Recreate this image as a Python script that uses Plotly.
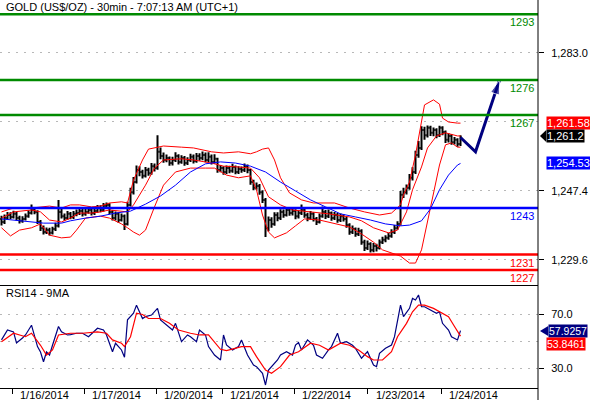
import plotly.graph_objects as go
from plotly.subplots import make_subplots

# ---- 30min gold bars (one bar per hour) ----
open_ = [1240.2, 1239.4, 1240.4, 1241.2, 1240.7, 1241.5, 1240.4, 1239.7, 1240.2, 1240.9,
         1241.7, 1242.5, 1242.0, 1239.4, 1237.8, 1236.8, 1237.3, 1236.6, 1237.6, 1238.4,
         1242.0, 1240.9, 1240.4, 1241.5, 1240.7, 1241.5, 1241.7, 1242.2, 1241.5, 1242.0,
         1242.5, 1241.7, 1242.2, 1243.0, 1242.5, 1243.5, 1243.8, 1242.0, 1240.4, 1241.5,
         1239.9, 1240.9, 1238.9, 1243.8, 1247.1, 1249.7, 1252.8, 1252.3, 1251.3, 1252.8,
         1252.0, 1253.8, 1253.3, 1257.5, 1256.4, 1255.4, 1255.9, 1254.6, 1255.4, 1256.4,
         1254.9, 1255.9, 1254.6, 1255.4, 1256.2, 1255.1, 1256.4, 1255.9, 1256.7, 1255.4,
         1256.2, 1254.9, 1255.7, 1252.8, 1253.3, 1252.3, 1253.3, 1252.6, 1253.6, 1252.3,
         1253.1, 1252.8, 1253.8, 1252.8, 1249.7, 1248.2, 1248.7, 1247.1, 1245.1, 1237.8,
         1239.9, 1238.9, 1241.2, 1240.4, 1242.0, 1241.2, 1242.5, 1241.7, 1242.2, 1240.9,
         1241.7, 1242.5, 1241.2, 1240.4, 1241.5, 1240.2, 1239.4, 1240.9, 1242.0, 1240.9,
         1241.7, 1240.4, 1241.2, 1239.9, 1240.9, 1240.2, 1238.6, 1236.8, 1237.6, 1236.3,
         1237.1, 1234.2, 1232.7, 1233.7, 1232.2, 1233.2, 1232.7, 1234.2, 1234.8, 1235.3,
         1235.8, 1236.8, 1237.8, 1238.9, 1246.4, 1247.1, 1248.2, 1250.8, 1252.3, 1256.7,
         1258.5, 1263.1, 1261.8, 1263.7, 1262.4, 1263.1, 1261.8, 1263.7, 1262.6, 1260.6,
         1261.6, 1260.0, 1260.6, 1259.5]
high = [1241.0, 1241.3, 1242.0, 1241.9, 1242.3, 1242.0, 1241.0, 1240.9, 1241.6, 1242.4,
        1243.9, 1243.2, 1242.4, 1239.9, 1238.5, 1238.0, 1237.9, 1238.2, 1239.2, 1245.1,
        1242.8, 1241.6, 1242.2, 1242.0, 1242.2, 1242.6, 1243.0, 1242.9, 1242.8, 1243.3,
        1243.0, 1243.1, 1243.8, 1243.7, 1244.3, 1244.4, 1244.2, 1242.5, 1242.1, 1241.9,
        1241.6, 1241.3, 1244.6, 1248.2, 1251.0, 1254.0, 1253.8, 1252.9, 1253.6, 1253.4,
        1254.6, 1254.5, 1261.8, 1258.6, 1257.3, 1256.8, 1256.3, 1256.2, 1257.4, 1256.9,
        1256.6, 1256.4, 1256.1, 1257.0, 1256.8, 1257.2, 1257.1, 1257.6, 1257.3, 1257.4,
        1256.8, 1256.9, 1256.0, 1254.1, 1253.8, 1254.0, 1253.9, 1254.4, 1254.0, 1253.8,
        1253.7, 1254.5, 1254.2, 1253.1, 1250.3, 1249.6, 1249.2, 1247.6, 1245.6, 1240.8,
        1240.6, 1241.9, 1241.9, 1242.7, 1242.6, 1243.2, 1243.0, 1243.0, 1242.7, 1242.4,
        1243.9, 1242.9, 1241.8, 1242.2, 1241.9, 1240.7, 1241.6, 1243.4, 1242.5, 1242.6,
        1242.1, 1242.0, 1241.7, 1241.6, 1241.4, 1240.7, 1239.1, 1238.5, 1238.0, 1237.9,
        1237.5, 1234.8, 1234.6, 1234.2, 1234.0, 1233.8, 1234.9, 1235.6, 1236.0, 1236.6,
        1237.5, 1238.6, 1239.6, 1247.4, 1248.2, 1249.1, 1251.8, 1253.5, 1257.8, 1260.3,
        1264.1, 1264.0, 1264.3, 1264.2, 1263.8, 1263.6, 1264.2, 1264.1, 1263.0, 1262.3,
        1262.1, 1261.3, 1261.0, 1261.8]
low = [1238.5, 1238.9, 1240.0, 1240.1, 1240.3, 1239.8, 1239.0, 1239.2, 1239.8, 1240.5,
       1241.3, 1241.4, 1238.9, 1237.1, 1236.2, 1236.3, 1235.9, 1236.2, 1237.1, 1238.0,
       1240.3, 1239.7, 1240.0, 1240.1, 1240.2, 1240.9, 1241.2, 1240.8, 1241.0, 1241.5,
       1241.1, 1241.2, 1241.8, 1241.9, 1242.1, 1242.9, 1241.4, 1239.8, 1239.8, 1239.2,
       1239.5, 1237.3, 1238.5, 1243.4, 1246.5, 1249.3, 1251.2, 1250.6, 1250.9, 1251.3,
       1251.6, 1252.4, 1252.9, 1255.6, 1254.7, 1254.8, 1253.9, 1254.0, 1254.9, 1254.2,
       1254.4, 1253.9, 1254.1, 1254.9, 1254.5, 1254.7, 1255.2, 1255.3, 1254.8, 1254.9,
       1254.2, 1254.4, 1252.1, 1252.2, 1251.6, 1251.8, 1252.0, 1252.1, 1251.7, 1251.8,
       1252.1, 1252.3, 1252.0, 1249.0, 1247.6, 1247.7, 1246.4, 1244.3, 1235.5, 1237.0,
       1237.9, 1238.4, 1239.6, 1239.9, 1240.5, 1240.8, 1241.0, 1241.1, 1240.1, 1240.3,
       1241.2, 1240.5, 1239.6, 1239.9, 1239.5, 1238.6, 1239.0, 1240.5, 1240.2, 1240.4,
       1239.7, 1239.9, 1239.2, 1239.4, 1239.5, 1237.9, 1236.1, 1236.3, 1235.6, 1235.8,
       1233.5, 1231.9, 1232.2, 1231.5, 1231.6, 1231.8, 1232.3, 1233.7, 1234.2, 1234.8,
       1235.3, 1236.3, 1237.4, 1238.5, 1245.6, 1246.5, 1247.7, 1250.1, 1251.8, 1256.0,
       1258.0, 1260.6, 1261.2, 1261.6, 1261.5, 1261.0, 1261.3, 1261.8, 1259.8, 1259.9,
       1259.3, 1259.4, 1258.8, 1259.0]
close = [1239.4, 1240.4, 1241.2, 1240.7, 1241.5, 1240.4, 1239.7, 1240.2, 1240.9, 1241.7,
         1242.5, 1242.0, 1239.4, 1237.8, 1236.8, 1237.3, 1236.6, 1237.6, 1238.4, 1242.0,
         1240.9, 1240.4, 1241.5, 1240.7, 1241.5, 1241.7, 1242.2, 1241.5, 1242.0, 1242.5,
         1241.7, 1242.2, 1243.0, 1242.5, 1243.5, 1243.8, 1242.0, 1240.4, 1241.5, 1239.9,
         1240.9, 1238.9, 1243.8, 1247.1, 1249.7, 1252.8, 1252.3, 1251.3, 1252.8, 1252.0,
         1253.8, 1253.3, 1257.5, 1256.4, 1255.4, 1255.9, 1254.6, 1255.4, 1256.4, 1254.9,
         1255.9, 1254.6, 1255.4, 1256.2, 1255.1, 1256.4, 1255.9, 1256.7, 1255.4, 1256.2,
         1254.9, 1255.7, 1252.8, 1253.3, 1252.3, 1253.3, 1252.6, 1253.6, 1252.3, 1253.1,
         1252.8, 1253.8, 1252.8, 1249.7, 1248.2, 1248.7, 1247.1, 1245.1, 1237.8, 1239.9,
         1238.9, 1241.2, 1240.4, 1242.0, 1241.2, 1242.5, 1241.7, 1242.2, 1240.9, 1241.7,
         1242.5, 1241.2, 1240.4, 1241.5, 1240.2, 1239.4, 1240.9, 1242.0, 1240.9, 1241.7,
         1240.4, 1241.2, 1239.9, 1240.9, 1240.2, 1238.6, 1236.8, 1237.6, 1236.3, 1237.1,
         1234.2, 1232.7, 1233.7, 1232.2, 1233.2, 1232.7, 1234.2, 1234.8, 1235.3, 1235.8,
         1236.8, 1237.8, 1238.9, 1246.4, 1247.1, 1248.2, 1250.8, 1252.3, 1256.7, 1258.5,
         1263.1, 1261.8, 1263.7, 1262.4, 1263.1, 1261.8, 1263.7, 1262.6, 1260.6, 1261.6,
         1260.0, 1260.6, 1259.5, 1261.2]
bar_idx = list(range(len(close)))

# ---- bollinger bands (red) and long moving average (blue) ----
upper_bar = [0, 4, 10, 13, 16, 20, 23, 26, 30, 33, 36, 40, 42, 44, 47, 49, 54, 60, 64, 70,
             74, 79, 83, 85, 87, 89, 91, 93, 96, 100, 104, 111, 116, 121, 126, 130, 133, 134,
             136, 138, 140, 141, 144, 146, 147, 149, 152, 153]
upper_val = [1242.0, 1243.0, 1243.0, 1243.3, 1243.5, 1243.0, 1243.8, 1243.8, 1243.3, 1243.5,
             1244.3, 1244.6, 1244.3, 1250.2, 1255.4, 1258.2, 1259.0, 1258.7, 1258.5, 1257.5,
             1257.2, 1257.5, 1257.0, 1257.5, 1258.2, 1258.5, 1255.4, 1250.8, 1246.9, 1245.1,
             1244.3, 1244.3, 1243.0, 1242.0, 1241.2, 1241.7, 1243.8, 1246.4, 1249.7, 1256.7,
             1265.7, 1269.6, 1270.9, 1269.8, 1266.2, 1265.2, 1264.9, 1264.9]
middle_bar = [0, 4, 10, 13, 16, 20, 23, 26, 30, 33, 36, 40, 42, 44, 48, 51, 54, 60, 64, 70,
              74, 79, 83, 86, 89, 93, 97, 103, 109, 116, 120, 124, 129, 132, 135, 137, 140,
              142, 145, 148, 152, 153]
middle_val = [1240.4, 1242.0, 1242.5, 1242.0, 1239.9, 1239.4, 1240.4, 1241.7, 1241.7, 1242.0,
              1242.5, 1242.2, 1242.0, 1243.8, 1248.9, 1253.3, 1255.4, 1255.7, 1255.4, 1254.6,
              1253.8, 1253.6, 1253.3, 1250.8, 1245.9, 1243.8, 1242.5, 1242.0, 1241.5, 1240.7,
              1239.7, 1237.9, 1236.6, 1237.3, 1242.0, 1247.7, 1253.6, 1258.5, 1261.6, 1262.4,
              1261.6, 1261.6]
lower_bar = [0, 3, 6, 10, 13, 16, 20, 23, 25, 28, 31, 33, 36, 40, 42, 44, 46, 48, 51, 54,
             58, 63, 68, 71, 75, 79, 83, 85, 87, 89, 91, 95, 98, 101, 106, 111, 116, 120,
             124, 127, 130, 133, 136, 138, 140, 142, 144, 146, 148, 150, 152, 153]
lower_val = [1237.9, 1235.8, 1237.3, 1237.9, 1238.9, 1236.0, 1235.3, 1235.5, 1237.3, 1240.4,
             1240.7, 1240.9, 1240.4, 1238.9, 1237.9, 1236.8, 1236.0, 1237.3, 1243.3, 1248.9,
             1252.3, 1253.3, 1253.3, 1253.3, 1251.5, 1250.8, 1251.3, 1247.7, 1241.2, 1236.8,
             1235.3, 1236.6, 1238.4, 1240.2, 1239.9, 1238.9, 1238.1, 1236.3, 1234.2, 1232.2,
             1231.4, 1230.6, 1228.8, 1228.8, 1232.2, 1239.4, 1246.4, 1254.1, 1259.3, 1259.8,
             1258.7, 1258.7]
ma_bar = [0, 4, 10, 14, 20, 23, 28, 33, 38, 43, 48, 53, 58, 63, 68, 73, 78, 83, 88, 93,
          98, 103, 108, 113, 118, 123, 128, 133, 136, 140, 143, 146, 149, 152, 153]
ma_val = [1240.2, 1239.9, 1239.4, 1239.1, 1239.1, 1239.7, 1240.4, 1240.9, 1241.7, 1242.2,
          1244.0, 1246.1, 1248.9, 1252.3, 1254.4, 1254.9, 1254.6, 1253.8, 1252.3, 1249.7,
          1247.4, 1245.1, 1243.3, 1241.5, 1240.7, 1239.9, 1238.9, 1238.4, 1238.6, 1239.7,
          1242.8, 1247.7, 1251.5, 1254.1, 1254.5]

# ---- RSI14 and its 9MA ----
rsi_bar = [0, 2, 4, 5, 7, 8, 10, 12, 13, 14, 15, 16, 17, 19, 20, 22, 23, 25, 27, 29,
           32, 34, 35, 37, 38, 40, 41, 42, 44, 45, 47, 48, 50, 52, 53, 55, 57, 58, 60, 62,
           63, 65, 66, 68, 69, 71, 73, 74, 75, 77, 79, 80, 82, 84, 85, 87, 88, 89, 92, 93,
           95, 97, 98, 99, 100, 102, 104, 105, 107, 109, 110, 112, 113, 115, 117, 118, 120, 122, 124, 125,
           126, 128, 130, 131, 133, 134, 136, 137, 138, 139, 140, 141, 143, 145, 146, 147, 149, 150, 152, 153]
rsi_val = [51.0, 58.4, 57.0, 48.7, 52.4, 54.7, 62.0, 46.0, 42.0, 34.7, 42.0, 39.7, 47.0, 61.0, 57.0, 54.7, 55.0, 56.0, 56.0, 53.4,
           59.7, 58.4, 54.7, 42.2, 48.5, 43.5, 38.0, 66.0, 71.0, 77.0, 67.0, 68.4, 69.6, 74.6, 66.0, 62.0, 58.4, 63.4, 49.7, 54.7,
           53.4, 49.7, 58.4, 54.7, 46.0, 39.7, 36.0, 54.7, 47.2, 43.5, 46.0, 51.0, 39.7, 32.2, 31.0, 26.0, 17.3, 28.5, 36.0, 39.7,
           42.2, 39.7, 47.2, 49.0, 43.5, 51.0, 47.0, 39.7, 37.3, 43.5, 46.0, 56.0, 48.5, 49.7, 47.0, 44.7, 37.3, 42.2, 32.2, 31.0,
           41.0, 44.7, 47.2, 53.4, 77.0, 68.4, 74.6, 82.0, 80.8, 84.6, 75.8, 75.8, 73.4, 70.9, 72.0, 63.4, 58.4, 53.4, 51.0, 57.93]
rsi_ma_bar = [0, 4, 8, 10, 13, 15, 17, 19, 23, 27, 32, 35, 37, 40, 41, 43, 45, 47, 49, 53,
              56, 59, 63, 66, 69, 73, 75, 80, 83, 85, 88, 90, 93, 96, 99, 103, 106, 109, 113, 116,
              119, 122, 124, 127, 130, 132, 135, 137, 139, 141, 144, 146, 149, 151, 153]
rsi_ma_val = [49.7, 56.0, 53.4, 56.0, 47.0, 39.7, 43.5, 54.7, 56.0, 56.0, 57.0, 56.0, 51.0, 48.5, 46.0, 53.4, 71.0, 70.0, 67.0, 67.0,
              63.4, 58.4, 56.0, 54.7, 54.7, 44.0, 43.0, 46.0, 46.0, 38.5, 28.5, 26.0, 31.0, 39.7, 42.2, 48.5, 47.0, 43.5, 48.5, 47.0,
              43.5, 38.5, 36.0, 36.0, 42.2, 53.4, 63.4, 72.0, 77.0, 77.0, 74.6, 72.0, 68.4, 61.0, 53.85]

# ---- support / resistance levels and the projected path ----
levels = [1293, 1276, 1267, 1243, 1231, 1227]
level_colors = ["#008a00", "#008a00", "#008a00", "#0000ff", "#ff0000", "#ff0000"]
arrow_bar = [153, 158, 166]
arrow_price = [1261.2, 1257.5, 1276.0]

day_break = [3.5, 27.5, 51.5, 73.5, 97.5, 122.0, 146.5]
day_labels = ["1/16/2014", "1/17/2014", "1/20/2014", "1/21/2014", "1/22/2014", "1/23/2014", "1/24/2014"]

FONT = "Liberation Sans, Arial, sans-serif"
GRID = "#b8b8b8"

fig = make_subplots(rows=2, cols=1, shared_xaxes=True, vertical_spacing=0,
                    row_heights=[285, 103])

for xs, ys in [(upper_bar, upper_val), (middle_bar, middle_val), (lower_bar, lower_val)]:
    fig.add_trace(go.Scatter(x=xs, y=ys, mode="lines", line=dict(color="#ff0000", width=1),
                             hoverinfo="skip"), row=1, col=1)
fig.add_trace(go.Scatter(x=ma_bar, y=ma_val, mode="lines", line=dict(color="#0000ff", width=1),
                         hoverinfo="skip"), row=1, col=1)
fig.add_trace(go.Ohlc(x=bar_idx, open=open_, high=high, low=low, close=close,
                      increasing_line_color="black", decreasing_line_color="black",
                      line_width=2, tickwidth=0.45), row=1, col=1)
fig.add_trace(go.Scatter(x=arrow_bar, y=arrow_price, mode="lines+markers",
                         line=dict(color="#000080", width=3),
                         marker=dict(symbol="arrow", size=[0, 0, 15], color="#000080",
                                     angleref="previous")), row=1, col=1)

fig.add_trace(go.Scatter(x=rsi_bar, y=rsi_val, mode="lines", line=dict(color="#000080", width=1.2)),
              row=2, col=1)
fig.add_trace(go.Scatter(x=rsi_ma_bar, y=rsi_ma_val, mode="lines", line=dict(color="#ff0000", width=1.2)),
              row=2, col=1)

# level lines + labels
for lv, col in zip(levels, level_colors):
    fig.add_shape(type="line", xref="x domain", yref="y", x0=0, x1=1, y0=lv, y1=lv,
                  line=dict(color=col, width=2.5))
    fig.add_annotation(xref="x domain", yref="y", x=1, y=lv, text=str(lv), showarrow=False,
                       xanchor="right", yanchor="top", xshift=-2, yshift=0,
                       font=dict(family=FONT, size=11, color=col))

# right frame line down to the bottom of the picture
fig.add_shape(type="line", xref="paper", yref="paper", x0=1, x1=1, y0=-0.031, y1=1,
              line=dict(color="black", width=1))

# value tags on the right
tags = [("1,261.58", "#ff0000", 1.0149, 0.683, 11),
        ("1,261.2", "black", 1.0149, 0.6495, 11),
        ("1,254.53", "#0000ff", 1.0149, 0.58, 11),
        ("57.9257", "#000080", 1.0186, 0.1469, 10.5),
        ("53.8461", "#ff0000", 1.0149, 0.1134, 10.5)]
for txt, bg, x, y, fs in tags:
    fig.add_annotation(xref="paper", yref="paper", x=x, y=y, text=txt, showarrow=False,
                       xanchor="left", yanchor="middle", bgcolor=bg, borderpad=0,
                       font=dict(family=FONT, size=fs, color="white"))
fig.add_shape(type="path", xref="paper", yref="paper", fillcolor="black", line_width=0,
              path="M 1.0037 0.6495 L 1.0153 0.6649 L 1.0153 0.6340 Z")
fig.add_shape(type="path", xref="paper", yref="paper", fillcolor="#000080", line_width=0,
              path="M 1.0037 0.1469 L 1.019 0.1598 L 1.019 0.1340 Z")

fig.add_annotation(xref="paper", yref="paper", x=0.0074, y=0.982, text="GOLD (US$/OZ) - 30min - 7:07:13 AM (UTC+1)",
                   showarrow=False, xanchor="left", yanchor="middle", font=dict(family=FONT, size=11, color="black"))
fig.add_annotation(xref="paper", yref="paper", x=0.0074, y=0.245, text="RSI14 - 9MA",
                   showarrow=False, xanchor="left", yanchor="middle", font=dict(family=FONT, size=11, color="black"))

for pos, lab in zip(day_break, day_labels):
    fig.add_annotation(xref="x2", yref="paper", x=pos, y=0, text=lab, showarrow=False,
                       xanchor="left", yanchor="top", xshift=6, yshift=1,
                       font=dict(family=FONT, size=11, color="black"))

fig.update_xaxes(range=[-0.5, 178.83], showgrid=False, zeroline=False, showline=True,
                 linecolor="black", linewidth=1, rangeslider_visible=False)
fig.update_xaxes(tickvals=day_break, ticktext=[""] * len(day_break), ticks="outside",
                 ticklen=5, tickcolor="black", row=2, col=1)

fig.update_yaxes(side="right", showline=False, zeroline=False, showgrid=True, gridcolor=GRID,
                 griddash="2px,6px", gridwidth=1, ticks="outside", ticklen=5, tickcolor="black",
                 ticklabelstandoff=5, tickfont=dict(family=FONT, size=11, color="black"))
fig.update_yaxes(range=[1223.14, 1296.67], tickvals=[1229.6, 1247.4, 1283.0],
                 ticktext=["1,229.6", "1,247.4", "1,283.0"],
                 minor=dict(tickvals=[1265.2], showgrid=True, gridcolor=GRID, griddash="2px,6px", ticks=""),
                 row=1, col=1)
fig.update_yaxes(range=[15.05, 92.06], tickvals=[30, 70], ticktext=["30.0", "70.0"],
                 minor=dict(tickvals=[50], showgrid=True, gridcolor=GRID, griddash="2px,6px", ticks=""),
                 row=2, col=1)

fig.update_layout(width=590, height=400, margin=dict(l=0, r=52, t=0, b=12, pad=0),
                  showlegend=False, plot_bgcolor="white", paper_bgcolor="white",
                  font=dict(family=FONT, size=11, color="black"))

# page body has a default 8px margin; drop it so the figure sits at the window corner
fig.write_html("out.html", config={"displayModeBar": False},
               post_script="document.body.style.margin='0px';")
